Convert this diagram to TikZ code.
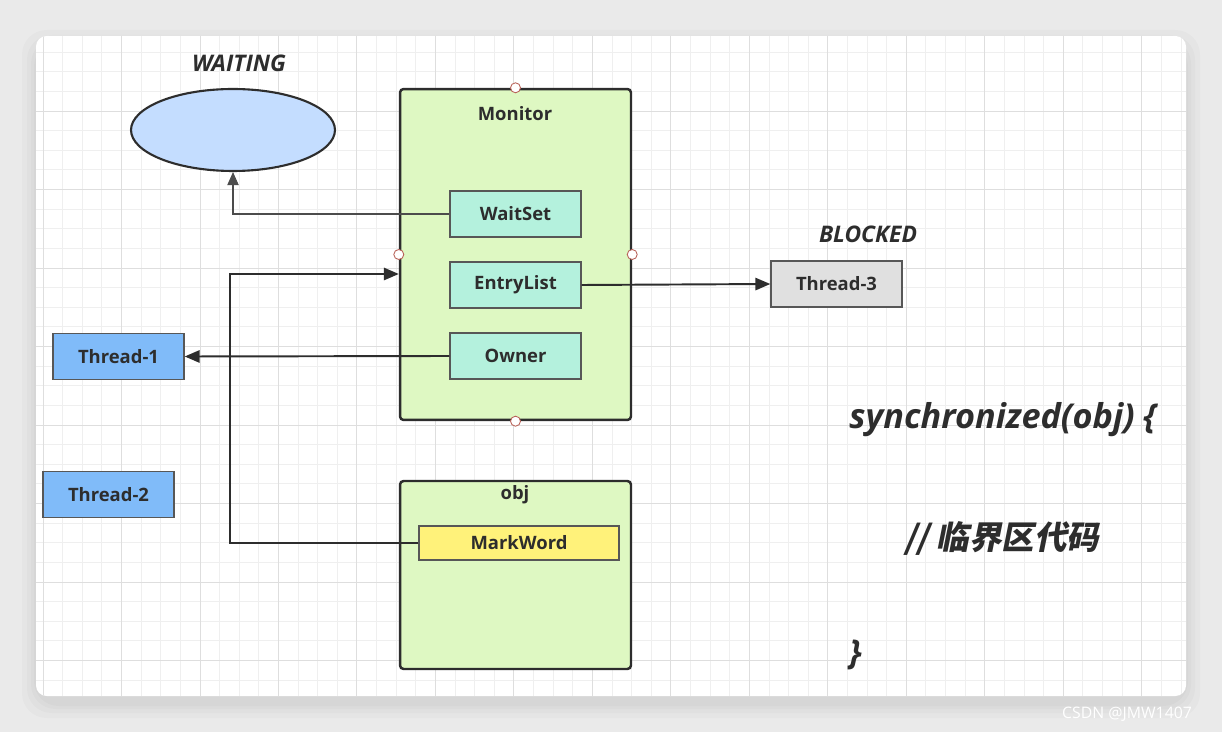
\documentclass[tikz,border=0pt]{standalone}
\usepackage{fontspec}
\setmainfont{Open Sans}
\newfontfamily\cjkfont[FakeSlant=0.2]{Noto Sans CJK SC Bold}
\usetikzlibrary{positioning,arrows.meta,shapes.geometric}
\definecolor{backdrop}{RGB}{234,234,234}
\definecolor{gridminor}{RGB}{239,239,239}
\definecolor{gridmajor}{RGB}{222,222,222}
\definecolor{edgedark}{RGB}{45,45,45}
\definecolor{waitblue}{RGB}{196,221,255}
\definecolor{monitorgreen}{RGB}{222,248,194}
\definecolor{slotmint}{RGB}{180,241,221}
\definecolor{threadblue}{RGB}{128,187,249}
\definecolor{blockgray}{RGB}{224,224,224}
\definecolor{markyellow}{RGB}{255,242,122}
\definecolor{handlered}{RGB}{185,100,90}

\tikzset{
  labelfont/.style={font=\fontsize{10.5}{12}\selectfont\bfseries},
  holder/.style={draw=edgedark,line width=1.4pt,fill=monitorgreen,rounded corners=2pt,inner sep=0pt},
  boxtitle/.style={labelfont,text=edgedark},
  slot/.style={draw=edgedark!80,line width=0.8pt,fill=slotmint,labelfont,text=edgedark,
    minimum width=2.62cm,minimum height=0.92cm,inner sep=0pt},
  threadbox/.style={slot,fill=threadblue},
  blockbox/.style={slot,fill=blockgray},
  markbox/.style={slot,fill=markyellow,minimum width=4cm,minimum height=0.68cm},
  waitoval/.style={ellipse,draw=edgedark,line width=1.2pt,fill=waitblue,
    minimum width=4.08cm,minimum height=1.64cm,inner sep=0pt},
  statetag/.style={font=\fontsize{13}{15}\selectfont\bfseries\itshape,text=edgedark},
  handle/.style={circle,draw=handlered,fill=white,line width=0.5pt,minimum size=0.2cm,inner sep=0pt},
  link/.style={draw=edgedark,line width=1.1pt,-{Triangle[length=8.5pt,width=7pt]}},
  thinlink/.style={draw=edgedark!85,line width=0.6pt,-{Triangle[length=7.5pt,width=6.5pt]}},
  codeline/.style={font=\fontsize{19.5}{21}\selectfont\bfseries\itshape,text=edgedark,inner sep=0pt}
}

\begin{document}
\begin{tikzpicture}[x=0.02cm,y=-0.02cm]
\useasboundingbox (0,0) rectangle (1222,732);
% Backdrop and canvas
\fill[backdrop] (0,0) rectangle (1222,732);
\foreach \s in {14,9,5,2} {
  \fill[black,opacity=0.02,rounded corners=14pt] (36-\s,36-\s+8) rectangle (1186+\s,696+\s+8);
}
\fill[white,rounded corners=6pt] (36,36) rectangle (1186,696);

% Grid
\begin{scope}
\clip[rounded corners=6pt] (36,36) rectangle (1186,696);
\foreach \k in {0,...,58} {
  \draw[gridminor,line width=0.5pt] ({43+19.62*\k},36) -- ({43+19.62*\k},696);
}
\foreach \k in {0,...,34} {
  \draw[gridminor,line width=0.5pt] (36,{32.6+19.62*\k}) -- (1186,{32.6+19.62*\k});
}
\foreach \k in {0,...,14} {
  \draw[gridmajor,line width=0.5pt] ({43+78.48*\k},36) -- ({43+78.48*\k},696);
}
\foreach \k in {0,...,8} {
  \draw[gridmajor,line width=0.5pt] (36,{32.6+78.48*\k}) -- (1186,{32.6+78.48*\k});
}
\end{scope}

% Waiting state
\node[statetag] (waitingtag) at (239,63) {WAITING};
\node[waitoval] (waiting) at (233,130) {};

% Monitor
\node[holder,minimum width=4.62cm,minimum height=6.62cm] (monitor) at (515.5,254.5) {};
\node[boxtitle] (monitortitle) at (515,114) {Monitor};
\node[slot] (waitset) at (515.5,214) {WaitSet};
\node[slot] (entrylist) at (515.5,285) {EntryList};
\node[slot] (owner) at (515.5,356) {Owner};
\foreach \a in {north,south,east,west} {
  \node[handle] (handle-\a) at (monitor.\a) {};
}

% Threads
\node[threadbox] (thread1) at (118.5,356.5) {Thread-1};
\node[threadbox] (thread2) at (108.5,494.5) {Thread-2};
\node[statetag] (blockedtag) at (868,234) {BLOCKED};
\node[blockbox] (thread3) at (836.5,284) {Thread-3};

% obj
\node[holder,minimum width=4.62cm,minimum height=3.76cm] (obj) at (515.5,575) {};
\node[boxtitle] (objtitle) at (515,495) {obj};
\node[markbox] (markword) at (519,543) {MarkWord};

% Links
\draw[thinlink] (waitset.west) -| (waiting.south);
\draw[link] (entrylist.east) -- (thread3.west);
\draw[link] (owner.west) -- (thread1.east);
\draw[link] (markword.west) -- ++(-188,0) |- ([yshift=-0.39cm]monitor.west);

% Code
\node[codeline,anchor=west] (synchead) at (849,420) {synchronized(obj) \{};
\node[codeline,anchor=west,font=\fontsize{18.5}{21}\selectfont\bfseries] (critical) at (904,538) {\cjkfont // 临界区代码};
\node[codeline,anchor=west] (syncend) at (849,655) {\}};

\node[text=white,font=\fontsize{9}{10}\selectfont] (credit) at (1127,714) {CSDN @JMW1407};
\end{tikzpicture}
\end{document}
